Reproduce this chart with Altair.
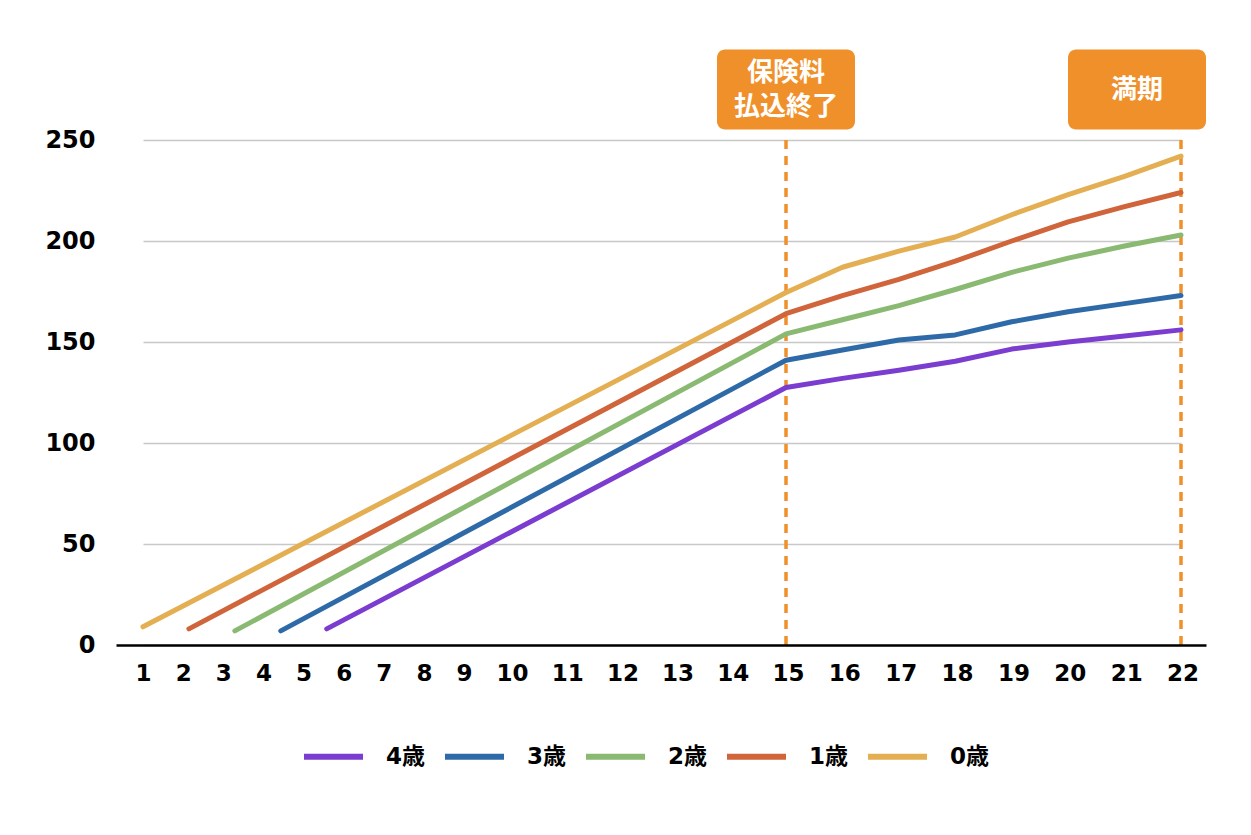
import altair as alt
import pandas as pd

# ---- data ----
ages = ["4歳", "3歳", "2歳", "1歳", "0歳"]
colors = ["#7A3DD0", "#2F6AA8", "#8AB972", "#D0643A", "#E4AE52"]

start_years = [5, 4, 3, 2, 1]
start_values = [8, 7, 7, 8, 9]

payoff_year = 15
values_at_15 = [127.5, 141, 154, 164, 174.5]

later_years = [16, 17, 18, 19, 20, 21, 22]
later_values = [
    [132, 136, 140.5, 146.5, 150, 153, 156],    # 4歳
    [146, 151, 153.5, 160, 165, 169, 173],      # 3歳
    [161, 168, 176, 184.5, 191.5, 197.5, 203],  # 2歳
    [173, 181, 190, 200, 209.5, 217, 224],      # 1歳
    [187, 195, 202, 213, 223, 232, 242],        # 0歳
]

tick_years = list(range(1, 23))
y_ticks = [0, 50, 100, 150, 200, 250]

marker_years = [15, 22]
note_payoff = ["保険料", "払込終了"]
note_maturity = ["満期"]
note_level = 275

# ---- build table ----
rows = []
for i, age in enumerate(ages):
    rows.append({"age": age, "year": start_years[i], "value": start_values[i]})
    rows.append({"age": age, "year": payoff_year, "value": values_at_15[i]})
    for yr, v in zip(later_years, later_values[i]):
        rows.append({"age": age, "year": yr, "value": v})
df = pd.DataFrame(rows)

W, H = 1090, 505

x_data = alt.Scale(domain=[1, 15, 22], range=[30, 673, 1068], nice=False, zero=False)
x_lab = alt.Scale(domain=[0.6, 1, 9, 10, 15, 22, 22.4],
                  range=[3, 30, 351, 399, 675, 1069.6, 1093], nice=False, zero=False)
y_sc = alt.Scale(domain=[0, 250], nice=False, zero=True)

num_font = "DejaVu Sans"
cjk_font = "DejaVu Sans, Noto Sans CJK JP"

y_axis = alt.Axis(values=y_ticks, grid=True, gridColor="#C8C8C8", gridWidth=1.5,
                  domain=False, ticks=False, labelPadding=18, labelFont=num_font,
                  labelFontWeight="bold", labelFontSize=24, labelColor="black",
                  title=None)

lines = alt.Chart(df).mark_line(strokeWidth=5, strokeCap="round", strokeJoin="round").encode(
    x=alt.X("year:Q", scale=x_data, axis=None),
    y=alt.Y("value:Q", scale=y_sc, axis=y_axis),
    color=alt.Color("age:N", scale=alt.Scale(domain=ages, range=colors),
                    legend=alt.Legend(orient="none", legendX=188, legendY=584,
                                      direction="horizontal", title=None,
                                      symbolType="stroke", symbolStrokeWidth=6,
                                      symbolSize=3481, labelFont=cjk_font,
                                      labelFontSize=23, labelFontWeight="bold",
                                      labelColor="black", labelOffset=20,
                                      columnPadding=7)),
)

rule_df = pd.DataFrame({"year": marker_years, "top": [250, 250], "bottom": [0, 0]})
rules = alt.Chart(rule_df).mark_rule(color="#F0902B", strokeWidth=3.5, strokeDash=[9, 7]).encode(
    x=alt.X("year:Q", scale=x_data, axis=None),
    y=alt.Y("top:Q", scale=y_sc, axis=y_axis),
    y2="bottom:Q",
)

box_df1 = pd.DataFrame({"year": [marker_years[0]], "lvl": [note_level], "label": [note_payoff]})
box_df2 = pd.DataFrame({"year": [marker_years[1]], "lvl": [note_level], "label": [note_maturity]})

def box(dfb, dx, dy):
    base = alt.Chart(dfb).encode(
        x=alt.X("year:Q", scale=x_data, axis=None),
        y=alt.Y("lvl:Q", scale=y_sc, axis=y_axis),
    )
    r = base.mark_rect(width=138, height=80, cornerRadius=8, color="#F0902B", xOffset=dx)
    t = base.mark_text(color="white", font="Noto Sans CJK JP", fontWeight="bold",
                       fontSize=26, lineHeight=34, baseline="middle", align="center",
                       xOffset=dx, dy=dy).encode(text="label")
    return r + t

data_layer = alt.layer(rules, lines, box(box_df1, 0, -17), box(box_df2, -44, 0))

axis_df = pd.DataFrame({"year": tick_years})
axis_layer = alt.Chart(axis_df).mark_point(opacity=0).encode(
    x=alt.X("year:Q", scale=x_lab, axis=alt.Axis(
        values=tick_years, format="d", grid=False, ticks=False, domain=True,
        domainColor="black", domainWidth=2.5, labelPadding=17, labelFont=num_font,
        labelFontWeight="bold", labelFontSize=23, labelColor="black",
        labelOverlap=False, labelFlush=False, title=None, orient="bottom", zindex=1)),
)

chart = alt.layer(data_layer, axis_layer).resolve_scale(x="independent").properties(
    width=W, height=H,
    autosize=alt.AutoSizeParams(type="none"),
    padding={"left": 105, "top": 132, "right": 35, "bottom": 170},
    background="white",
).configure_view(stroke=None)

chart.save("out.html", embed_options={"renderer": "svg", "actions": False})
